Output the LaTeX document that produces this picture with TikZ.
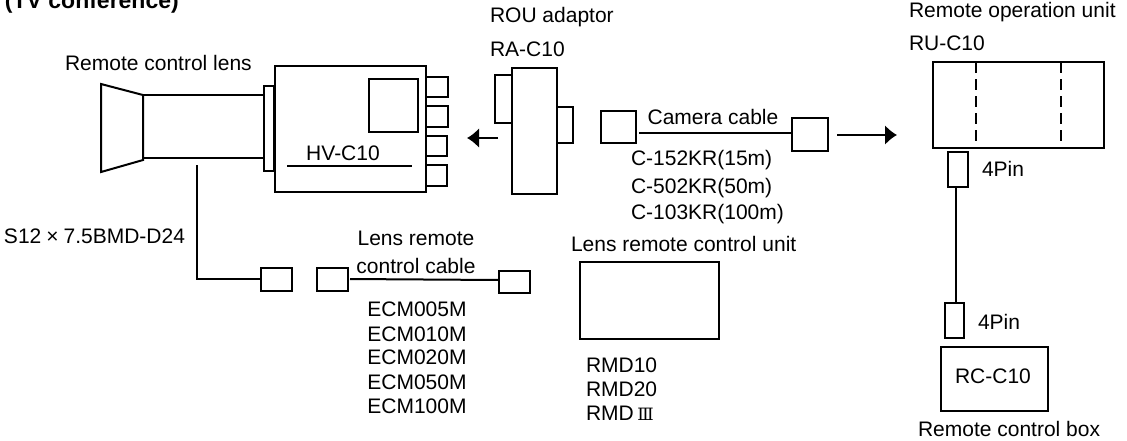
\documentclass[tikz,border=0pt]{standalone}
\usepackage{fontspec}
\setmainfont{Liberation Sans}
\newfontfamily\romfont{DejaVu Serif}
\usepackage{tikz}
\usetikzlibrary{arrows.meta}
\newcommand{\bxn}[5]{\node[bx,minimum width={(#4-#2)*1pt},minimum height={(#5-#3)*1pt}] (#1) at ({(#2+#4)/2},{(#3+#5)/2}) {};}
\tikzset{
 x=1pt,y=-1pt,
 bx/.style={draw=black,line width=2pt,inner sep=0pt,outer sep=0pt,fill=none},
 ln/.style={draw=black,line width=2pt,line join=miter},
 lab/.style={inner sep=0pt,outer sep=0pt,font=\fontsize{21}{25}\selectfont,text=black},
 labl/.style={lab,anchor=west},
 arr/.style={ln,-{Latex[length=12pt,width=20pt]}},
}
\begin{document}
\begin{tikzpicture}
\useasboundingbox (0,0) rectangle (1127,440);
\node[labl,font=\bfseries\fontsize{23}{27}\selectfont] (title) at (5,3) {(TV conference)};
\node[labl] (lrc) at (65,63) {Remote control lens};
% lens
\coordinate (l1) at (101,84);\coordinate (l2) at (143,95);\coordinate (l3) at (143,160);\coordinate (l4) at (101,172);
\draw[ln] (l1)--(l2)--(l3)--(l4)--cycle;
\bxn{flange}{264}{86}{274}{171}
\draw[ln] (l2)--(flange.west |- l2);
\coordinate (l5) at (143,158);
\draw[ln] (l5)--(flange.west |- l5);
\bxn{body}{275}{66}{426}{192}
\bxn{win}{369}{79}{418}{132}
\bxn{s1}{426}{77}{448}{97}
\bxn{s2}{426}{106}{448}{127}
\bxn{s3}{426}{136}{447}{156}
\bxn{s4}{426}{165}{447}{186}
\node[lab] (hv) at (343,153) {HV-C10};
\coordinate (hv1) at (287,166);\coordinate (hv2) at (412,166);
\draw[ln] (hv1)--(hv2);
% adaptor
\node[labl] (rou) at (490,17) {ROU adaptor};
\node[labl] (ra) at (490,49) {RA-C10};
\bxn{ad}{512}{68}{557}{194}
\bxn{adl}{495}{75}{512}{123}
\bxn{adr}{557}{107}{573}{143}
\coordinate (a1) at (498,138);\coordinate (a2) at (467,138);
\draw[arr] (a1)--(a2);
% camera cable
\bxn{cc1}{601}{111}{636}{143}
\bxn{cc2}{792}{118}{828}{151}
\coordinate (cc1o) at (639,133);\coordinate (cc2o) at (792,133);
\draw[ln] (cc1o)--(cc2o);
\node[lab] (cam) at (713,117) {Camera cable};
\node[labl] (c1) at (631,160) {C-152KR(15m)};
\node[labl] (c2) at (631,188) {C-502KR(50m)};
\node[labl] (c3) at (631,214) {C-103KR(100m)};
\coordinate (a3) at (837,135);\coordinate (a4) at (897,135);
\draw[arr] (a3)--(a4);
% remote op
\node[labl] (rem) at (909,12) {Remote operation unit};
\node[labl] (ru) at (909,43) {RU-C10};
\bxn{ru1}{933}{62}{1104}{148}
\coordinate (d1) at (976,62);\coordinate (d2) at (976,148);\coordinate (d3) at (1061,62);\coordinate (d4) at (1061,148);
\draw[ln,dash pattern=on 11pt off 6pt] (d1)--(d2) (d3)--(d4);
\bxn{p1}{948}{152}{968}{187}
\node[labl] (p1t) at (982,169) {4Pin};
\bxn{p2}{945}{303}{964}{338}
\coordinate (p1o) at (956,187);\coordinate (p2o) at (956,303);
\draw[ln] (p1o)--(p2o);
\node[labl] (p2t) at (978,322) {4Pin};
\bxn{rc}{941}{347}{1048}{411}
\node[lab] (rct) at (993,376) {RC-C10};
\node[labl] (rcb) at (918,429) {Remote control box};
% lens cable
\bxn{b1}{261}{268}{292}{291}
\bxn{b2}{317}{268}{348}{291}
\bxn{b3}{499}{271}{530}{293}
\coordinate (v) at (197,165);\coordinate (vc) at (197,279);\coordinate (b1o) at (261,279);
\coordinate (b2o) at (350,279);\coordinate (b3o) at (499,280);
\draw[ln] (v)--(vc)--(b1o);
\draw[ln] (b2o)--(b3o);
\node[labl] (s12) at (4,236) {S12\hspace{5pt}×\hspace{5pt}7.5BMD-D24};
\node[lab] (lr1) at (416,238) {Lens remote};
\node[lab] (lr2) at (416,266) {control cable};
\node[lab] (e1) at (417,309) {ECM005M};
\node[lab] (e2) at (417,334) {ECM010M};
\node[lab] (e3) at (417,357) {ECM020M};
\node[lab] (e4) at (417,382) {ECM050M};
\node[lab] (e5) at (417,406) {ECM100M};
% lens unit
\node[labl] (lu) at (571,244) {Lens remote control unit};
\bxn{lub}{580}{262}{719}{339}
\node[labl] (r1) at (586,365) {RMD10};
\node[labl] (r2) at (586,389) {RMD20};
\node[labl] (r3) at (586,413) {RMD\,{\romfont\fontsize{17}{20}\selectfont Ⅲ}};
\end{tikzpicture}
\end{document}
